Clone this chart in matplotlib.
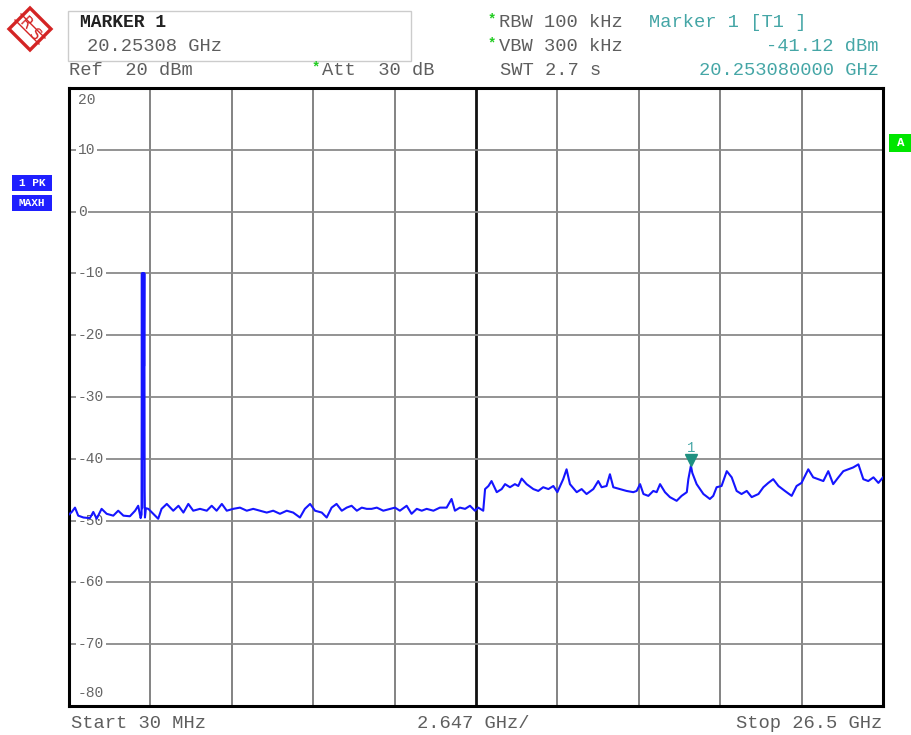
import matplotlib
matplotlib.use("Agg")
import matplotlib.pyplot as plt
from matplotlib.patches import Rectangle, Polygon

# ---------------- data ----------------
freq_ghz = [
    0.03, 0.12, 0.225, 0.33, 0.50, 0.71, 0.82, 0.93, 1.09, 1.255, 1.47, 1.63, 1.80,
    2.01, 2.18, 2.28, 2.36,
    2.39, 2.40, 2.41, 2.42, 2.43, 2.44, 2.45, 2.46, 2.47, 2.48, 2.49, 2.50,
    2.53, 2.61, 2.77, 2.93, 3.04, 3.21, 3.42, 3.59, 3.75, 3.91, 4.07, 4.29, 4.51,
    4.67, 4.83, 5.00, 5.16, 5.37, 5.59, 5.81, 6.02, 6.24, 6.46, 6.67, 6.89, 7.11,
    7.32, 7.54, 7.70, 7.87, 8.03, 8.25, 8.41, 8.57, 8.73, 8.90, 9.06, 9.22, 9.39,
    9.55, 9.71, 9.87, 10.04, 10.25, 10.47, 10.63, 10.79, 11.01, 11.17, 11.34,
    11.50, 11.66, 11.88, 12.09, 12.31, 12.47, 12.58, 12.74, 12.91, 13.07, 13.23,
    13.34, 13.50,
    13.56, 13.67, 13.77, 13.94, 14.10, 14.21, 14.37, 14.53, 14.64, 14.75, 14.91,
    15.13, 15.29, 15.45, 15.62, 15.78, 15.91, 16.10, 16.21, 16.32, 16.54, 16.70,
    16.86, 17.08, 17.24, 17.35, 17.51, 17.62, 17.73, 17.95, 18.16, 18.38, 18.49,
    18.60, 18.71, 18.87, 19.03, 19.14, 19.25, 19.41, 19.57, 19.79, 19.95, 20.12,
    20.17, 20.253, 20.30, 20.44, 20.66, 20.87, 20.98, 21.09, 21.25, 21.42, 21.58,
    21.74, 21.90, 22.07, 22.23, 22.45, 22.61, 22.77, 22.93, 23.10, 23.31, 23.53,
    23.69, 23.85, 23.96, 24.07, 24.23, 24.40, 24.56, 24.72, 24.88, 25.05, 25.21,
    25.37, 25.53, 25.70, 25.86, 26.02, 26.19, 26.35, 26.50,
]
level_dbm = [
    -49.0, -48.6, -47.9, -49.2, -49.5, -49.6, -48.6, -49.7, -48.1, -48.9, -49.2, -48.4, -49.2,
    -49.3, -48.4, -47.6, -49.6,
    -49.0, -10.0, -48.0, -10.0, -30.0, -10.0, -40.0, -10.0, -25.0, -10.0, -45.0, -49.5,
    -48.0, -48.1, -48.9, -49.7, -48.1, -47.3, -48.4, -47.6, -48.7, -47.3, -48.4, -48.1, -48.4,
    -47.6, -48.4, -47.3, -48.4, -48.1, -47.9, -48.4, -48.1, -48.4, -48.7, -48.4, -48.9, -48.4,
    -48.7, -49.5, -48.1, -47.3, -48.4, -48.7, -49.5, -47.9, -47.3, -48.4, -47.9, -47.6, -48.4,
    -47.9, -48.1, -48.1, -47.9, -48.4, -48.1, -47.9, -48.4, -47.6, -48.9, -48.1,
    -48.4, -48.1, -48.4, -47.9, -47.9, -46.5, -48.4, -47.9, -48.1, -47.6, -48.4,
    -47.9, -48.4,
    -44.9, -44.4, -43.6, -45.4, -44.9, -44.1, -44.6, -44.1, -44.4, -43.2, -44.1,
    -44.9, -45.2, -44.6, -44.9, -44.4, -45.4, -43.3, -41.7, -44.1, -45.4, -44.9,
    -45.7, -44.9, -43.6, -44.6, -44.4, -42.5, -44.6, -44.9, -45.2, -45.4, -45.2,
    -44.1, -45.7, -46.0, -45.2, -45.4, -44.1, -45.4, -46.2, -46.8, -46.0, -45.4,
    -43.3, -41.12, -42.3, -44.1, -45.7, -46.5, -46.0, -44.6, -44.4, -42.0, -43.0,
    -45.2, -45.7, -45.2, -46.2, -45.7, -44.6, -43.9, -43.3, -44.4, -45.2, -46.0,
    -44.4, -43.9, -42.8, -41.7, -43.0, -43.3, -43.6, -42.0, -44.1, -43.0, -42.0,
    -41.7, -41.4, -40.9, -43.3, -43.6, -43.0, -43.9, -43.0,
]
start_ghz = 0.03
stop_ghz = 26.5
div_ghz = 2.647
ref_top = 20
ref_bottom = -80
grid_levels = [10, 0, -10, -20, -30, -40, -50, -60, -70]
marker_freq = 20.253080
marker_level = -41.12

W, H = 912, 735
fig = plt.figure(figsize=(W / 100, H / 100), dpi=100)
fig.patch.set_facecolor("white")

MONO = "Liberation Mono"
GRAY = "#5e5e5e"
TEAL = "#45a6a6"

# ---------------- main axes ----------------
ax = fig.add_axes([69 / W, 29 / H, 814 / W, 618 / H])
ax.set_xlim(start_ghz, stop_ghz)
ax.set_ylim(ref_bottom, ref_top)
ax.set_xticks([])
ax.set_yticks([])
for s in ax.spines.values():
    s.set_linewidth(2.2)
    s.set_color("black")

for k in range(1, 10):
    x = start_ghz + k * div_ghz
    if k == 5:
        ax.axvline(x, color="#111111", lw=2.0, zorder=1)
    else:
        ax.axvline(x, color="#7a7a7a", lw=1.3, zorder=1)
for v in grid_levels:
    ax.axhline(v, color="#8a8a8a", lw=1.3, zorder=1)

lab_x = start_ghz + 0.29
for v in grid_levels:
    ax.text(lab_x, v, str(v), ha="left", va="center", fontsize=10.5, family=MONO,
            color="#666666", zorder=2,
            bbox=dict(facecolor="white", edgecolor="none", pad=1.0))
ax.text(lab_x, 18.1, str(ref_top), ha="left", va="center", fontsize=10.5,
        family=MONO, color="#666666", zorder=2)
ax.text(lab_x, -77.9, str(ref_bottom), ha="left", va="center", fontsize=10.5,
        family=MONO, color="#666666", zorder=2)

ax.plot(freq_ghz, level_dbm, color="#1515ff", lw=1.5, zorder=3)

# marker
ax.plot([marker_freq], [marker_level + 0.9], marker="v", markersize=8,
        color="#1f9080", zorder=4, linestyle="none")
ax.text(marker_freq, marker_level + 2.9, "1", ha="center", va="center",
        fontsize=10, family=MONO, color=TEAL, zorder=4)

# ---------------- overlay (pixel coordinates) ----------------
ov = fig.add_axes([0, 0, 1, 1], zorder=5)
ov.set_xlim(0, W)
ov.set_ylim(H, 0)
ov.axis("off")
ov.patch.set_alpha(0)

# R&S logo
cx, cy, r = 30, 29, 21
RED = "#d42424"
ov.add_patch(Polygon([(cx, cy - r), (cx + r, cy), (cx, cy + r), (cx - r, cy)],
                     closed=True, facecolor="white", edgecolor=RED, lw=2.4))
for d in (-3, 3):
    ov.plot([cx - 12 + d, cx + 12 + d], [cy - 12 - d, cy + 12 - d], color=RED, lw=1.0)
ov.text(cx - 4.5, cy - 5.5, "R", ha="center", va="center", fontsize=10.5, color=RED,
        family="DejaVu Sans", rotation=-45)
ov.text(cx + 4.5, cy + 6, "S", ha="center", va="center", fontsize=10.5, color=RED,
        family="DejaVu Sans", rotation=-45)

# marker box
ov.add_patch(Rectangle((68, 11), 343, 50, facecolor="white", edgecolor="#cccccc", lw=1.0))
FS = 13.5
ov.text(80, 22, "MARKER 1", ha="left", va="center", fontsize=FS - 0.5, family=MONO,
        fontweight="bold", color="#222222")
ov.text(87, 46, "20.25308 GHz", ha="left", va="center", fontsize=FS, family=MONO, color=GRAY)
ov.text(69, 70, "Ref  20 dBm", ha="left", va="center", fontsize=FS, family=MONO, color=GRAY)
ov.text(316, 67, "*", ha="center", va="center", fontsize=10, family=MONO, color="#22cc22",
        fontweight="bold")
ov.text(322, 70, "Att  30 dB", ha="left", va="center", fontsize=FS, family=MONO, color=GRAY)

ov.text(492, 19, "*", ha="center", va="center", fontsize=10, family=MONO, color="#22cc22",
        fontweight="bold")
ov.text(499, 22, "RBW 100 kHz", ha="left", va="center", fontsize=FS, family=MONO, color=GRAY)
ov.text(492, 43, "*", ha="center", va="center", fontsize=10, family=MONO, color="#22cc22",
        fontweight="bold")
ov.text(499, 46, "VBW 300 kHz", ha="left", va="center", fontsize=FS, family=MONO, color=GRAY)
ov.text(500, 70, "SWT 2.7 s", ha="left", va="center", fontsize=FS, family=MONO, color=GRAY)

ov.text(649, 22, "Marker 1 [T1 ]", ha="left", va="center", fontsize=FS, family=MONO, color=TEAL)
ov.text(879, 46, "-41.12 dBm", ha="right", va="center", fontsize=FS, family=MONO, color=TEAL)
ov.text(879, 70, "20.253080000 GHz", ha="right", va="center", fontsize=FS, family=MONO, color=TEAL)

# trace labels
ov.add_patch(Rectangle((12, 175), 40, 16, facecolor="#1f1fff", edgecolor="none"))
ov.text(32, 183, "1 PK", ha="center", va="center", fontsize=8, family=MONO,
        color="white", fontweight="bold")
ov.add_patch(Rectangle((12, 195), 40, 16, facecolor="#1f1fff", edgecolor="none"))
ov.text(32, 203, "MAXH", ha="center", va="center", fontsize=8, family=MONO,
        color="white", fontweight="bold")

# green A
ov.add_patch(Rectangle((889, 134), 23, 18, facecolor="#00e600", edgecolor="none"))
ov.text(901, 143, "A", ha="center", va="center", fontsize=7, family="DejaVu Sans",
        color="white", fontweight="bold")

# bottom labels
ov.text(71, 723, "Start 30 MHz", ha="left", va="center", fontsize=FS, family=MONO, color=GRAY)
ov.text(473, 723, "2.647 GHz/", ha="center", va="center", fontsize=FS, family=MONO, color=GRAY)
ov.text(882, 723, "Stop 26.5 GHz", ha="right", va="center", fontsize=FS, family=MONO, color=GRAY)

fig.savefig("out.png", dpi=100, facecolor="white")
